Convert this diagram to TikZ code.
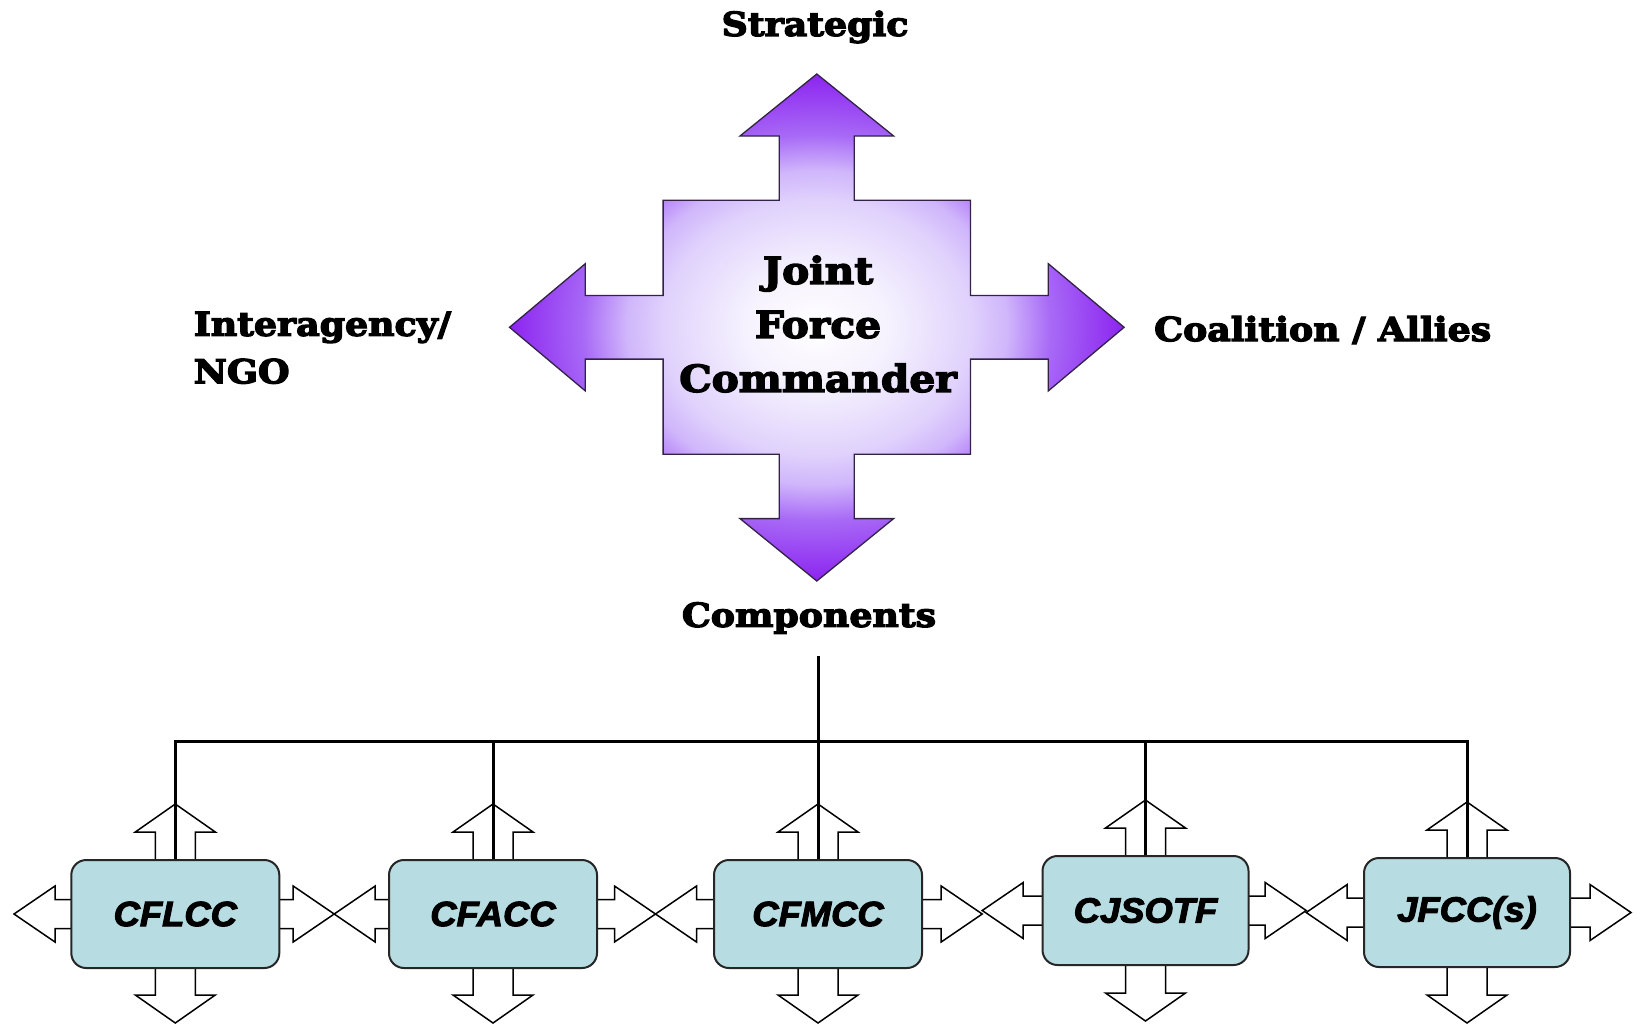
\documentclass[tikz,border=0pt]{standalone}
\usepackage{fontspec}
\usepackage{graphicx}
\setmainfont{DejaVu Serif}
\newfontfamily\hfont{DejaVu Serif}[FakeStretch=1.1, BoldFeatures={FakeBold=4}]
\newfontfamily\bxfont{Liberation Sans}[FakeStretch=1.04, BoldItalicFeatures={FakeBold=3}]
\usetikzlibrary{calc}
\definecolor{pA}{RGB}{245,241,254}
\definecolor{pB}{RGB}{224,210,252}
\definecolor{pC}{RGB}{208,182,251}
\definecolor{pD}{RGB}{168,106,246}
\definecolor{pE}{RGB}{140,36,240}
\definecolor{boxfill}{RGB}{183,221,226}
\definecolor{crossline}{RGB}{50,35,70}
\pgfdeclareradialshading{jfcshade}{\pgfpoint{0bp}{0bp}}{color(0bp)=(white); color(6bp)=(pA); color(12.5bp)=(pB); color(15.5bp)=(pC); color(19bp)=(pD); color(25bp)=(pE); color(50bp)=(pE)}
\tikzset{
  lbl/.style={font={\hfont\bfseries\fontsize{33bp}{47.5bp}\selectfont}, inner sep=0pt},
  jfclbl/.style={font={\hfont\bfseries\fontsize{37bp}{54bp}\selectfont}, inner sep=0pt, align=center},
  compbox/.style={draw=black!85, line width=2bp, fill=boxfill, rounded corners=15bp,
    minimum width=208bp, minimum height=108bp, inner sep=0pt,
    font={\bxfont\bfseries\itshape\fontsize{35bp}{40bp}\selectfont}},
  outarr/.style={draw=black, fill=white, line width=1.5bp, line join=miter},
  bus/.style={draw=black, line width=3bp},
}
\newcommand\sideArrow[3]{%
  \pgfmathsetmacro\hbx{#2-41*sign(#2-#1)}%
  \draw[outarr] (#1,#3-14.5) -- (\hbx,#3-14.5) -- (\hbx,#3-28) -- (#2,#3) -- (\hbx,#3+28) -- (\hbx,#3+14.5) -- (#1,#3+14.5);}
\newcommand\vertArrow[3]{%
  \pgfmathsetmacro\vby{#3-28*sign(#3-#2)}%
  \draw[outarr] (#1-20,#2) -- (#1-20,\vby) -- (#1-40,\vby) -- (#1,#3) -- (#1+40,\vby) -- (#1+20,\vby) -- (#1+20,#2);}
\begin{document}
\begin{tikzpicture}[x=1bp,y=-1bp]
\fill[white] (0,0) rectangle (1641,1026);
\useasboundingbox (0,0) rectangle (1641,1026);

% central cross
\shadedraw[shading=jfcshade, draw=crossline, line width=1.3bp]
  (816.8,74) -- (893.6,136) -- (854.3,136) -- (854.3,200.3) -- (970.5,200.3)
  -- (970.5,295.5) -- (1048.3,295.5) -- (1048.3,263.7) -- (1124.1,327.3)
  -- (1048.3,390.9) -- (1048.3,359.1) -- (970.5,359.1) -- (970.5,454.3)
  -- (854.3,454.3) -- (854.3,518.6) -- (893.6,518.6) -- (816.8,581)
  -- (740,518.6) -- (779.3,518.6) -- (779.3,454.3) -- (663.1,454.3)
  -- (663.1,359.1) -- (585.3,359.1) -- (585.3,390.9) -- (509.5,327.3)
  -- (585.3,263.7) -- (585.3,295.5) -- (663.1,295.5) -- (663.1,200.3)
  -- (779.3,200.3) -- (779.3,136) -- (740,136) -- cycle;

\node[jfclbl] (jfc) at (818,324) {Joint\\Force\\Commander};
\node[lbl] (strat) at (815,27) {Strategic};
\node[lbl, anchor=west, align=left] (inter) at (193.6,347.7) {Interagency/\\NGO};
\node[lbl, anchor=west] (coal) at (1154,330) {Coalition / Allies};
\node[lbl] (comp) at (809,618) {Components};

% outline arrows around component boxes
\sideArrow{72}{14}{914}
\sideArrow{278}{334.2}{914}
\sideArrow{390}{334.2}{914}
\sideArrow{596}{655.5}{914}
\sideArrow{715}{655.5}{914}
\sideArrow{921}{982.2}{914}
\sideArrow{1043.5}{982.2}{910.5}
\sideArrow{1247.5}{1306.2}{910.5}
\sideArrow{1365}{1306.2}{912.5}
\sideArrow{1569}{1631}{912.5}

\vertArrow{175.3}{861}{804}
\vertArrow{175.3}{967}{1023}
\vertArrow{493}{861}{804}
\vertArrow{493}{967}{1023}
\vertArrow{818}{861}{804}
\vertArrow{818}{967}{1023}
\vertArrow{1145.5}{857}{800}
\vertArrow{1145.5}{964}{1021}
\vertArrow{1467}{859}{802}
\vertArrow{1467}{966}{1023}

% component boxes
\node[compbox] (cflcc) at (175.3,914) {CFLCC};
\node[compbox] (cfacc) at (493,914) {CFACC};
\node[compbox] (cfmcc) at (818,914) {CFMCC};
\node[compbox, minimum width=206bp, minimum height=109bp] (cjsotf) at (1145.5,910.5) {CJSOTF};
\node[compbox, minimum width=206bp, minimum height=109bp] (jfcc) at (1467,912.5) {JFCC(s)};

% bus
\coordinate (bustop) at (818,656);
\coordinate (busy) at (0,741);
\draw[bus] (bustop) -- (cfmcc.north);
\draw[bus] (cflcc.north) -- (cflcc.north |- busy) -- (jfcc.north |- busy) -- (jfcc.north);
\draw[bus] (cfacc.north |- busy) -- (cfacc.north);
\draw[bus] (cjsotf.north |- busy) -- (cjsotf.north);
\end{tikzpicture}
\end{document}
